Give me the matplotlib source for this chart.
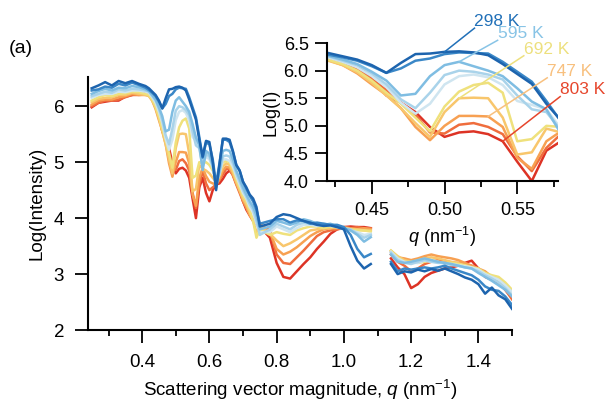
import numpy as np
import matplotlib.pyplot as plt
from matplotlib.ticker import MultipleLocator, FormatStrFormatter

plt.rcParams['font.family'] = 'Liberation Sans'
plt.rcParams['mathtext.fontset'] = 'custom'
plt.rcParams['mathtext.rm'] = 'Liberation Sans'
plt.rcParams['mathtext.it'] = 'Liberation Sans:italic'

# q grids (nm^-1) for each stretch of the curves
q_left = np.round(np.arange(0.25, 0.415, 0.02), 2)
q_inset = np.round(np.arange(0.42, 0.585, 0.01), 2)
q_mid = np.round(np.arange(0.59, 0.755, 0.01), 2)
q_right = np.round(np.arange(0.78, 1.085, 0.02), 2)
q_tail = np.round(np.arange(1.14, 1.505, 0.02), 2)

# ten temperatures, coolest (blue) to hottest (red)
colors = ['#1d64ae', '#3a87c7', '#7fbde2', '#a9d3ea', '#cfe5f0',
          '#efe17c', '#f8c66c', '#f7a052', '#ef6d3d', '#dd3325']

left_vals = [
    [6.32, 6.37, 6.43, 6.37, 6.45, 6.41, 6.45, 6.40, 6.36],
    [6.28, 6.30, 6.35, 6.33, 6.40, 6.37, 6.42, 6.38, 6.33],
    [6.22, 6.27, 6.31, 6.28, 6.33, 6.32, 6.36, 6.34, 6.30],
    [6.18, 6.22, 6.26, 6.24, 6.30, 6.28, 6.31, 6.30, 6.28],
    [6.15, 6.20, 6.22, 6.22, 6.26, 6.25, 6.28, 6.28, 6.26],
    [6.10, 6.16, 6.20, 6.18, 6.22, 6.23, 6.26, 6.25, 6.22],
    [6.07, 6.13, 6.15, 6.16, 6.20, 6.20, 6.24, 6.22, 6.20],
    [6.03, 6.10, 6.12, 6.12, 6.16, 6.18, 6.22, 6.20, 6.20],
    [6.00, 6.06, 6.10, 6.10, 6.12, 6.16, 6.20, 6.20, 6.21],
    [5.98, 6.06, 6.08, 6.10, 6.10, 6.17, 6.20, 6.22, 6.23],
]

inset_vals = [
    [6.32, 6.26, 6.20, 6.10, 5.96, 6.14, 6.30, 6.31, 6.34, 6.35, 6.33, 6.28, 6.12, 5.94, 5.76, 5.40, 5.10],
    [6.29, 6.24, 6.18, 6.08, 5.96, 6.04, 6.18, 6.22, 6.30, 6.33, 6.32, 6.31, 6.16, 5.98, 5.80, 5.45, 5.08],
    [6.27, 6.20, 6.12, 5.98, 5.82, 5.55, 5.58, 5.90, 6.10, 6.16, 6.08, 6.00, 5.90, 5.68, 5.44, 5.30, 4.86],
    [6.26, 6.18, 6.10, 5.95, 5.75, 5.48, 5.32, 5.60, 5.92, 6.00, 5.98, 5.93, 5.84, 5.55, 5.30, 5.25, 4.92],
    [6.24, 6.16, 6.06, 5.90, 5.70, 5.42, 5.22, 5.40, 5.75, 5.90, 5.93, 5.88, 5.74, 5.45, 5.38, 5.30, 4.95],
    [6.20, 6.12, 6.00, 5.82, 5.60, 5.40, 5.15, 4.90, 5.35, 5.62, 5.74, 5.78, 5.60, 4.72, 4.76, 5.00, 4.98],
    [6.18, 6.10, 5.97, 5.78, 5.55, 5.32, 5.05, 4.80, 5.25, 5.50, 5.51, 5.50, 5.15, 4.48, 4.52, 4.95, 4.88],
    [6.19, 6.10, 5.95, 5.75, 5.56, 5.32, 4.98, 4.74, 5.00, 5.18, 5.18, 5.17, 4.98, 4.42, 4.22, 4.72, 4.90],
    [6.22, 6.14, 6.02, 5.85, 5.65, 5.42, 5.20, 4.88, 4.86, 5.02, 5.05, 4.98, 4.85, 4.45, 4.18, 4.60, 4.85],
    [6.25, 6.18, 6.10, 5.85, 5.55, 5.42, 5.25, 4.98, 4.80, 4.88, 4.90, 4.85, 4.72, 4.35, 4.00, 4.55, 4.72],
]

mid_vals = [
    [5.38, 5.36, 5.00, 4.50, 4.95, 5.42, 5.42, 5.40, 5.20, 4.95, 4.85, 4.65, 4.55, 4.42, 4.35, 4.20, 3.85],
    [5.35, 5.32, 5.05, 4.60, 4.98, 5.40, 5.40, 5.36, 5.18, 4.95, 4.85, 4.65, 4.52, 4.40, 4.30, 4.15, 3.90],
    [5.20, 5.15, 4.95, 4.55, 4.85, 5.20, 5.22, 5.20, 5.05, 4.85, 4.70, 4.55, 4.42, 4.30, 4.20, 4.05, 3.80],
    [5.15, 5.10, 4.92, 4.60, 4.80, 5.10, 5.12, 5.10, 4.98, 4.80, 4.65, 4.50, 4.38, 4.25, 4.15, 3.95, 3.70],
    [5.10, 5.05, 4.90, 4.65, 4.78, 5.05, 5.05, 5.02, 4.92, 4.75, 4.60, 4.45, 4.35, 4.20, 4.10, 3.90, 3.75],
    [5.00, 4.95, 4.85, 4.70, 4.80, 5.00, 5.02, 5.00, 4.88, 4.70, 4.55, 4.40, 4.30, 4.15, 3.95, 3.65, 3.80],
    [4.85, 4.80, 4.72, 4.65, 4.75, 4.92, 4.98, 4.95, 4.82, 4.65, 4.50, 4.35, 4.25, 4.10, 3.95, 3.75, 3.85],
    [4.75, 4.65, 4.62, 4.60, 4.70, 4.85, 4.92, 4.90, 4.78, 4.62, 4.48, 4.32, 4.20, 4.05, 3.95, 3.90, 3.90],
    [4.62, 4.50, 4.55, 4.60, 4.68, 4.78, 4.88, 4.88, 4.76, 4.60, 4.45, 4.30, 4.18, 4.05, 3.98, 3.92, 3.88],
    [4.45, 4.30, 4.50, 4.60, 4.62, 4.70, 4.80, 4.85, 4.78, 4.62, 4.50, 4.30, 4.15, 4.05, 3.95, 3.90, 3.85],
]

right_vals = [
    [3.90, 4.02, 4.07, 4.05, 4.00, 3.95, 3.92, 3.88, 3.86, 3.87, 3.84, 3.80, 3.50, 3.24, 3.10, 3.18],
    [3.95, 3.98, 3.98, 3.92, 3.96, 3.95, 3.90, 3.92, 3.90, 3.88, 3.88, 3.84, 3.70, 3.45, 3.30, 3.36],
    [3.85, 3.95, 3.92, 3.88, 3.92, 3.98, 3.95, 3.90, 3.88, 3.90, 3.85, 3.82, 3.78, 3.70, 3.58, 3.66],
    [3.80, 3.90, 3.85, 3.80, 3.88, 3.92, 3.90, 3.88, 3.90, 3.88, 3.84, 3.82, 3.80, 3.72, 3.65, 3.70],
    [3.75, 3.85, 3.80, 3.75, 3.82, 3.88, 3.88, 3.86, 3.88, 3.86, 3.84, 3.80, 3.78, 3.75, 3.70, 3.72],
    [3.70, 3.75, 3.72, 3.70, 3.78, 3.82, 3.85, 3.85, 3.82, 3.85, 3.84, 3.82, 3.80, 3.78, 3.78, 3.76],
    [3.72, 3.60, 3.50, 3.55, 3.62, 3.70, 3.78, 3.80, 3.82, 3.82, 3.84, 3.82, 3.80, 3.80, 3.78, 3.78],
    [3.75, 3.45, 3.35, 3.40, 3.48, 3.58, 3.68, 3.75, 3.80, 3.82, 3.82, 3.84, 3.82, 3.80, 3.82, 3.80],
    [3.78, 3.35, 3.20, 3.18, 3.30, 3.42, 3.55, 3.68, 3.75, 3.78, 3.80, 3.82, 3.82, 3.84, 3.82, 3.82],
    [3.65, 3.20, 2.95, 2.92, 3.05, 3.18, 3.30, 3.45, 3.58, 3.72, 3.80, 3.84, 3.85, 3.84, 3.84, 3.82],
]

tail_vals = [
    [3.18, 3.00, 3.05, 3.03, 3.08, 3.05, 3.09, 3.06, 3.10, 3.05, 3.00, 2.94, 2.90, 2.82, 2.65, 2.76, 2.62, 2.55, 2.38],
    [3.22, 3.05, 3.10, 3.08, 3.10, 3.12, 3.10, 3.12, 3.15, 3.10, 3.06, 3.02, 2.98, 2.90, 2.78, 2.72, 2.70, 2.60, 2.45],
    [3.35, 3.22, 3.20, 3.22, 3.25, 3.28, 3.25, 3.22, 3.20, 3.18, 3.15, 3.12, 3.10, 3.02, 2.95, 2.88, 2.80, 2.72, 2.60],
    [3.38, 3.25, 3.20, 3.18, 3.22, 3.25, 3.22, 3.20, 3.20, 3.16, 3.15, 3.12, 3.10, 3.05, 2.98, 2.92, 2.85, 2.75, 2.62],
    [3.40, 3.28, 3.22, 3.20, 3.20, 3.24, 3.22, 3.22, 3.18, 3.18, 3.16, 3.14, 3.12, 3.08, 3.00, 2.95, 2.90, 2.80, 2.68],
    [3.42, 3.30, 3.22, 3.22, 3.20, 3.22, 3.25, 3.22, 3.20, 3.20, 3.18, 3.16, 3.12, 3.10, 3.02, 2.98, 2.95, 2.85, 2.72],
    [3.42, 3.32, 3.25, 3.22, 3.25, 3.28, 3.30, 3.28, 3.25, 3.22, 3.20, 3.15, 3.12, 3.08, 3.02, 2.95, 2.90, 2.80, 2.65],
    [3.40, 3.30, 3.28, 3.25, 3.28, 3.32, 3.35, 3.32, 3.30, 3.28, 3.25, 3.20, 3.15, 3.10, 3.05, 2.95, 2.88, 2.78, 2.62],
    [3.35, 3.22, 3.15, 3.05, 3.10, 3.18, 3.22, 3.25, 3.22, 3.20, 3.20, 3.18, 3.15, 3.10, 3.00, 2.92, 2.85, 2.72, 2.55],
    [3.28, 3.12, 3.00, 2.75, 2.82, 2.95, 3.02, 3.06, 3.10, 3.12, 3.15, 3.20, 3.24, 3.10, 2.95, 2.90, 2.85, 2.72, 2.58],
]

# labelled temperatures: text, colour, curve index, q index in inset grid
temp_labels = ['298 K', '595 K', '692 K', '747 K', '803 K']
temp_colors = ['#2170b8', '#88c4e6', '#ede07e', '#f8c07e', '#e6462c']
temp_curve = [0, 2, 6, 7, 9]
temp_qidx = [8, 9, 9, 11, 12]
label_pos = [(0.5206, 6.77), (0.5365, 6.55), (0.5545, 6.27), (0.5706, 5.87), (0.5795, 5.53)]

fig = plt.figure(figsize=(6.05, 4.05), dpi=100)

# main panel
ax = fig.add_axes([0.146, 0.185, 0.7003, 0.6247])
q_main = np.concatenate([q_left, q_inset, q_mid, q_right])
for i in reversed(range(len(colors))):
    y = np.concatenate([left_vals[i], inset_vals[i], mid_vals[i], right_vals[i]])
    ax.plot(q_main, y, color=colors[i], lw=1.8)
    ax.plot(q_tail, tail_vals[i], color=colors[i], lw=1.8)

ax.set_xlim(0.24, 1.5)
ax.set_ylim(2, 6.52)
ax.spines[['top', 'right']].set_visible(False)
ax.spines[['left', 'bottom']].set_linewidth(1.5)
ax.xaxis.set_major_locator(MultipleLocator(0.2))
ax.xaxis.set_minor_locator(MultipleLocator(0.1))
ax.xaxis.set_major_formatter(FormatStrFormatter('%.1f'))
ax.yaxis.set_major_locator(MultipleLocator(1))
ax.tick_params(which='major', direction='out', length=9.5, width=1.3, labelsize=13.5, pad=8)
ax.tick_params(which='minor', direction='out', length=4.5, width=1.3)
ax.set_xlabel('Scattering vector magnitude, $q$ (nm$^{-1}$)', fontsize=13.5, labelpad=5)
ax.set_ylabel('Log(Intensity)', fontsize=13.5, labelpad=6)

fig.text(0.015, 0.868, '(a)', fontsize=14)

# inset
axi = fig.add_axes([0.54, 0.553, 0.3823, 0.3407])
for i in reversed(range(len(colors))):
    axi.plot(q_inset, inset_vals[i], color=colors[i], lw=1.8)
axi.set_xlim(0.419, 0.578)
axi.set_ylim(4.0, 6.5)
axi.spines[['top', 'right']].set_visible(False)
axi.spines[['left', 'bottom']].set_linewidth(1.5)
axi.xaxis.set_major_locator(MultipleLocator(0.05))
axi.xaxis.set_minor_locator(MultipleLocator(0.025))
axi.xaxis.set_major_formatter(FormatStrFormatter('%.2f'))
axi.yaxis.set_major_locator(MultipleLocator(0.5))
axi.yaxis.set_major_formatter(FormatStrFormatter('%.1f'))
axi.tick_params(which='major', direction='out', length=9, width=1.3, labelsize=13, pad=4)
axi.tick_params(axis='x', which='major', pad=6)
axi.tick_params(which='minor', direction='out', length=4.5, width=1.3)
axi.set_xlabel('$q$ (nm$^{-1}$)', fontsize=13, labelpad=4)
axi.set_ylabel('Log(I)', fontsize=13, labelpad=3)

for lab, c, ci, qi, (tx, ty) in zip(temp_labels, temp_colors, temp_curve, temp_qidx, label_pos):
    axi.plot([q_inset[qi], tx], [inset_vals[ci][qi], ty], color=c, lw=1.1, clip_on=False)
    axi.text(tx, ty + 0.04, lab, color=c, fontsize=12.5, ha='left', va='baseline', clip_on=False)

fig.savefig('out.png', dpi=100)
